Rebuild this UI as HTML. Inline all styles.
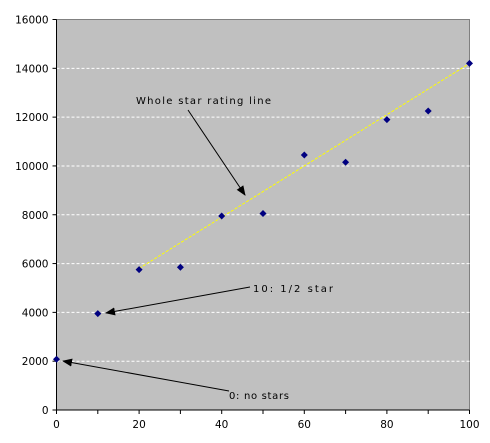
<!DOCTYPE html>
<html><head><meta charset="utf-8"><style>
body{margin:0;background:#fff;}
svg{display:block;font-family:"DejaVu Sans","Liberation Sans",sans-serif;}
</style></head><body>
<svg id="chart" width="490" height="443">
<defs><marker id="ah" markerWidth="10" markerHeight="8" refX="9" refY="4" orient="auto" markerUnits="userSpaceOnUse"><path d="M0,0 L10,4 L0,8 z" fill="#000"/></marker></defs>
<rect x="56.5" y="19.5" width="413" height="390.5" fill="#c0c0c0" stroke="#808080"/>
<g id="grid"></g><g id="axes"></g><g id="marks"></g>
<g font-size="10" fill="#000">
<text x="136" y="104" textLength="135" lengthAdjust="spacing">Whole star rating line</text>
<line x1="188" y1="110" x2="245" y2="195" stroke="#000" marker-end="url(#ah)"/>
<text x="253" y="292" textLength="80" lengthAdjust="spacing">10: 1/2 star</text>
<line x1="250" y1="287" x2="106" y2="313" stroke="#000" marker-end="url(#ah)"/>
<text x="229" y="399" textLength="60" lengthAdjust="spacing">0: no stars</text>
<line x1="229" y1="391" x2="63" y2="361" stroke="#000" marker-end="url(#ah)"/>
</g>
</svg>
<script>
const xs=[0,10,20,30,40,50,60,70,80,90,100];
const ys=[2080,3950,5750,5850,7950,8050,10450,10150,11900,12250,14200];
const lineX=[20,100];
const lineY=[5800,14200];
const yTicks=[0,2000,4000,6000,8000,10000,12000,14000,16000];
const xTicks=[0,20,40,60,80,100];
const L=56.5,R=469.5,T=19.5,B=410;
const sx=v=>L+v/100*(R-L), sy=v=>B-v/16000*(B-T);
const NS="http://www.w3.org/2000/svg";
function mk(p,tag,a){const e=document.createElementNS(NS,tag);for(const k in a)e.setAttribute(k,a[k]);p.appendChild(e);return e;}
const grid=document.getElementById('grid'),axes=document.getElementById('axes'),marks=document.getElementById('marks');
yTicks.forEach(v=>{
 if(v>0&&v<16000){const g=mk(grid,'line',{x1:L,x2:R,y1:sy(v),y2:sy(v),stroke:'#fff','stroke-dasharray':'3,2'});
 
 }
 const t=mk(axes,'line',{x1:L-4,x2:L,y1:sy(v),y2:sy(v),stroke:'#000'});
 
 
 const tx=mk(axes,'text',{x:L-8,y:sy(v)+4,'text-anchor':'end','font-size':'10.5'});tx.textContent=v;
 
 
});
for(let v=0;v<=100;v+=10){const t=mk(axes,'line',{x1:sx(v),x2:sx(v),y1:B,y2:B+4,stroke:'#000'});
 
 }
xTicks.forEach(v=>{const tx=mk(axes,'text',{x:sx(v),y:B+18,'text-anchor':'middle','font-size':'10.5'});tx.textContent=v;
 
 });
const ya=mk(axes,'line',{x1:L,x2:L,y1:T,y2:B,stroke:'#000'});


const xa=mk(axes,'line',{x1:L,x2:R,y1:B,y2:B,stroke:'#000'});


const tl=mk(marks,'line',{x1:sx(lineX[0]),y1:sy(lineY[0]),x2:sx(lineX[1]),y2:sy(lineY[1]),stroke:'#ffff00','stroke-dasharray':'3,1.5'});


xs.forEach((x,i)=>{const cx=sx(x),cy=sy(ys[i]);
 const p=mk(marks,'path',{d:`M${cx},${cy-3.5}L${cx+3.5},${cy}L${cx},${cy+3.5}L${cx-3.5},${cy}Z`,fill:'#000080'});
 
 });
</script>
</body></html>
